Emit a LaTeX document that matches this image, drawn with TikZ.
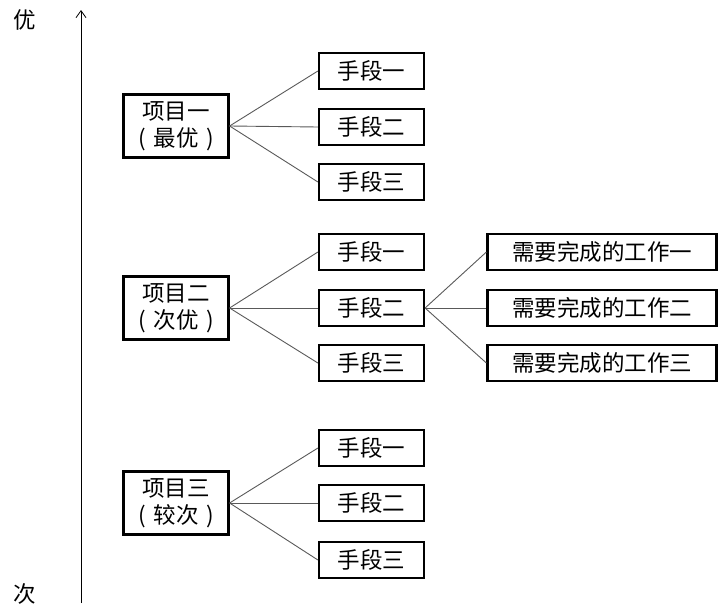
\documentclass[tikz,border=0pt]{standalone}
\usepackage{fontspec}
\setmainfont{Noto Sans CJK SC}
\usetikzlibrary{arrows.meta}
\tikzset{
  sbox/.style={draw, line width=2.2pt, minimum width=105pt, minimum height=36pt, inner sep=0pt, font=\fontsize{22.5}{26}\selectfont},
  pbox/.style={draw, line width=2.2pt, minimum width=105pt, minimum height=63pt, inner sep=0pt, align=center, font=\fontsize{22.5}{27}\selectfont},
  wbox/.style={draw, line width=2.2pt, minimum width=229pt, minimum height=36pt, inner sep=0pt, font=\fontsize{22.5}{26}\selectfont},
  conn/.style={draw=black!65, line width=0.9pt},
  axlabel/.style={inner sep=0pt, font=\fontsize{22.5}{26}\selectfont}
}
\newcommand{\pgap}{\hspace{0.35em}}
\begin{document}
\begin{tikzpicture}[x=1pt,y=-1pt]
\useasboundingbox (0,0) rectangle (720,613);
% axis
\coordinate (abot) at (81,603);
\coordinate (atop) at (81,10);
\draw[line width=0.8pt, -{Straight Barb[length=7pt,width=10pt]}] (abot) -- (atop);
\node[axlabel] (you) at (25,20) {优};
\node[axlabel] (ci) at (25,594) {次};
% group 1
\node[pbox] (p1) at (176,126) {项目一\\(\pgap 最优\pgap)};
\node[sbox] (a1) at (371.5,71) {手段一};
\node[sbox] (a2) at (371.5,127) {手段二};
\node[sbox] (a3) at (371.5,182) {手段三};
% group 2
\node[pbox] (p2) at (176,308) {项目二\\(\pgap 次优\pgap)};
\node[sbox] (b1) at (371.5,252) {手段一};
\node[sbox] (b2) at (371.5,308) {手段二};
\node[sbox] (b3) at (371.5,363) {手段三};
\node[wbox] (w1) at (602,252) {需要完成的工作一};
\node[wbox] (w2) at (602,308) {需要完成的工作二};
\node[wbox] (w3) at (602,363) {需要完成的工作三};
% group 3
\node[pbox] (p3) at (176,503) {项目三\\(\pgap 较次\pgap)};
\node[sbox] (c1) at (371.5,448) {手段一};
\node[sbox] (c2) at (371.5,503) {手段二};
\node[sbox] (c3) at (371.5,560) {手段三};
% connectors
\foreach \s/\t in {p1/a1,p1/a2,p1/a3,p2/b1,p2/b2,p2/b3,p3/c1,p3/c2,p3/c3,b2/w1,b2/w2,b2/w3}
  \draw[conn] (\s.east) -- (\t.west);
\end{tikzpicture}
\end{document}
